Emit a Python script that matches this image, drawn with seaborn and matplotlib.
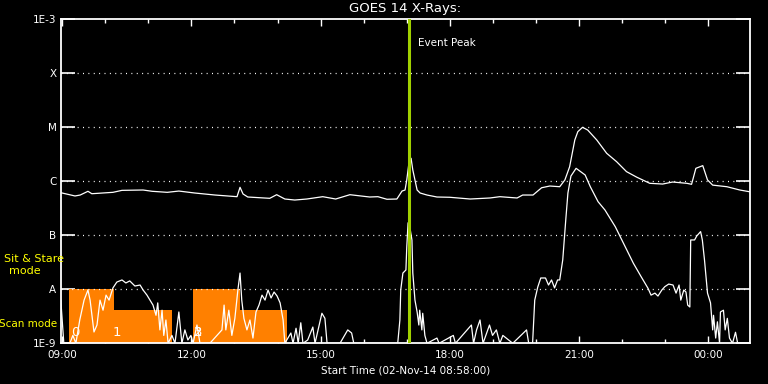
import numpy as np
import pandas as pd
import seaborn as sns
from matplotlib import pyplot as plt
from matplotlib.ticker import FixedLocator, NullLocator

# hours since 02-Nov-14 00:00, flux in W/m^2
long_t = [8.97, 9.30, 9.42, 9.60, 9.69, 10.18, 10.39, 10.88, 11.09, 11.44, 11.71, 12.08, 12.55,
          13.06, 13.13, 13.20, 13.31, 13.82, 13.98, 14.17, 14.40, 14.68, 15.05, 15.35, 15.68,
          16.14, 16.33, 16.54, 16.77, 16.89, 16.96, 17.00, 17.05, 17.10, 17.14, 17.24, 17.31,
          17.47, 17.70, 18.00, 18.47, 18.93, 19.16, 19.56, 19.69, 19.93, 20.13, 20.32, 20.55,
          20.67, 20.78, 20.90, 20.97, 21.08, 21.20, 21.41, 21.64, 21.87, 22.10, 22.34, 22.64,
          22.94, 23.17, 23.50, 23.61, 23.71, 23.87, 23.98, 24.10, 24.43, 24.73, 24.96]
long_f = [6.15e-7, 5.35e-7, 5.57e-7, 6.53e-7, 5.89e-7, 6.25e-7, 6.8e-7, 6.9e-7, 6.53e-7, 6.25e-7,
          6.6e-7, 6.07e-7, 5.57e-7, 5.19e-7, 7.74e-7, 5.82e-7, 5.12e-7, 4.84e-7, 5.65e-7, 4.7e-7,
          4.5e-7, 4.7e-7, 5.19e-7, 4.7e-7, 5.65e-7, 5.12e-7, 5.19e-7, 4.65e-7, 4.7e-7, 6.6e-7,
          6.9e-7, 1.06e-6, 2.18e-6, 2.67e-6, 1.62e-6, 6.9e-7, 6.07e-7, 5.57e-7, 5.12e-7, 5.06e-7,
          4.7e-7, 4.91e-7, 5.19e-7, 4.91e-7, 5.57e-7, 5.57e-7, 7.6e-7, 8.18e-7, 7.94e-7, 1.06e-6,
          1.86e-6, 5.82e-6, 8.3e-6, 1.0e-5, 8.9e-6, 5.82e-6, 3.3e-6, 2.31e-6, 1.51e-6, 1.19e-6,
          9.18e-7, 8.9e-7, 9.7e-7, 9.18e-7, 8.8e-7, 1.74e-6, 1.95e-6, 1.06e-6, 8.5e-7, 7.94e-7,
          6.9e-7, 6.4e-7]

short_t = [8.97, 9.02, 9.04, 9.18, 9.25, 9.32, 9.41, 9.51, 9.60, 9.65, 9.74, 9.81, 9.88, 9.95,
           10.02, 10.09, 10.18, 10.27, 10.39, 10.48, 10.57, 10.69, 10.81, 10.88, 10.97, 11.04,
           11.11, 11.18, 11.22, 11.27, 11.32, 11.36, 11.41, 11.46, 11.55, 11.62, 11.71, 11.78,
           11.85, 11.92, 11.99, 12.04, 12.13, 12.20, 12.43, 12.71, 12.76, 12.80, 12.87, 12.94,
           13.01, 13.08, 13.13, 13.17, 13.22, 13.29, 13.36, 13.43, 13.50, 13.57, 13.64, 13.71,
           13.78, 13.85, 13.92, 13.99, 14.06, 14.13, 14.17, 14.31, 14.36, 14.43, 14.48, 14.54,
           14.59, 14.70, 14.82, 14.87, 15.03, 15.10, 15.15, 15.45, 15.63, 15.72, 15.77, 16.79,
           16.84, 16.86, 16.91, 16.98, 17.00, 17.03, 17.05, 17.12, 17.14, 17.19, 17.24, 17.28,
           17.30, 17.35, 17.37, 17.42, 17.47, 17.70, 17.75, 18.08, 18.13, 18.50, 18.55, 18.62,
           18.70, 18.77, 18.92, 18.99, 19.08, 19.16, 19.23, 19.46, 19.78, 19.83, 19.92, 19.97,
           20.04, 20.11, 20.22, 20.29, 20.36, 20.43, 20.50, 20.55, 20.62, 20.69, 20.74, 20.81,
           20.93, 21.14, 21.26, 21.44, 21.60, 21.84, 22.07, 22.26, 22.44, 22.60, 22.67, 22.76,
           22.83, 22.92, 22.99, 23.08, 23.18, 23.25, 23.32, 23.36, 23.43, 23.48, 23.52, 23.57,
           23.59, 23.68, 23.73, 23.82, 23.86, 23.91, 23.98, 24.05, 24.10, 24.12, 24.17, 24.21,
           24.26, 24.28, 24.35, 24.39, 24.44, 24.49, 24.56, 24.63, 24.68, 24.96]
short_f = [6.3e-9, 1.77e-9, 1e-9, 1e-9, 1.4e-9, 1e-9, 2.7e-9, 6.3e-9, 9.7e-9, 6.3e-9, 1.62e-9,
           2.18e-9, 6.3e-9, 4.1e-9, 7.8e-9, 6.3e-9, 1.06e-8, 1.36e-8, 1.49e-8, 1.31e-8, 1.43e-8,
           1.15e-8, 1.2e-8, 9.7e-9, 7.8e-9, 6.3e-9, 5.1e-9, 3.3e-9, 5.6e-9, 1.77e-9, 4.1e-9,
           1.4e-9, 2.7e-9, 1e-9, 1.4e-9, 1e-9, 3.8e-9, 1e-9, 1.77e-9, 1.15e-9, 1.4e-9, 1e-9,
           2.18e-9, 1e-9, 1e-9, 1.77e-9, 5.1e-9, 1.77e-9, 4.1e-9, 1.4e-9, 2.9e-9, 9.7e-9, 2.0e-8,
           6.3e-9, 2.9e-9, 1.77e-9, 2.7e-9, 1.25e-9, 3.8e-9, 5.1e-9, 7.8e-9, 6.3e-9, 9.7e-9,
           6.9e-9, 8.9e-9, 7.5e-9, 5.6e-9, 2.7e-9, 1e-9, 1.55e-9, 1e-9, 1.9e-9, 1e-9, 2.4e-9,
           1e-9, 1.15e-9, 2.0e-9, 1e-9, 3.6e-9, 2.9e-9, 1e-9, 1e-9, 1.77e-9, 1.55e-9, 1e-9, 1e-9,
           2.7e-9, 9.7e-9, 2.0e-8, 2.28e-8, 6.1e-8, 1.69e-7, 1.79e-7, 8.2e-8, 2.0e-8, 6.3e-9,
           3.8e-9, 2.18e-9, 4.1e-9, 1.77e-9, 3.6e-9, 1.4e-9, 1e-9, 1.25e-9, 1e-9, 1.4e-9, 1e-9,
           2.18e-9, 1e-9, 1.77e-9, 2.7e-9, 1e-9, 2.18e-9, 1.4e-9, 1.77e-9, 1e-9, 1.4e-9, 1e-9,
           1.77e-9, 1e-9, 1e-9, 6.3e-9, 1.1e-8, 1.62e-8, 1.62e-8, 1.2e-8, 1.49e-8, 1.06e-8,
           1.49e-8, 1.49e-8, 3.5e-8, 1.92e-7, 6.07e-7, 1.25e-6, 1.74e-6, 1.31e-6, 7.94e-7, 4.19e-7,
           2.94e-7, 1.44e-7, 6.15e-8, 3.03e-8, 1.71e-8, 1.04e-8, 7.8e-9, 8.5e-9, 7.5e-9, 9.7e-9,
           1.12e-8, 1.25e-8, 1.2e-8, 8.5e-9, 1.2e-8, 6.3e-9, 9.7e-9, 8.9e-9, 5.1e-9, 4.7e-9,
           8.2e-8, 8.2e-8, 9.7e-8, 1.17e-7, 8.2e-8, 3.5e-8, 8.5e-9, 5.6e-9, 1.77e-9, 3.3e-9,
           1.25e-9, 2.5e-9, 1e-9, 3.8e-9, 4.1e-9, 1.77e-9, 2.9e-9, 1.25e-9, 1e-9, 1.6e-9, 1e-9, 1e-9]

# scan / sit & stare mode intervals: start, end, top level
mode_start = [9.16, 10.20, 12.04, 13.14]
mode_end = [10.20, 11.54, 13.14, 14.21]
mode_top = [1e-8, 4.1e-9, 1e-8, 4.1e-9]
mode_num = ['0', '1', '2', '3']
mode_num_t = [9.30, 10.28, 12.17, 12.17]

peak_t = 17.05
xticks = [9, 12, 15, 18, 21, 24]
xlabels = ['09:00', '12:00', '15:00', '18:00', '21:00', '00:00']
yticks = [1e-9, 1e-8, 1e-7, 1e-6, 1e-5, 1e-4, 1e-3]
ylabels = ['1E-9', 'A', 'B', 'C', 'M', 'X', '1E-3']

sns.set_theme(style='dark')
plt.rcParams.update({'axes.facecolor': 'black', 'figure.facecolor': 'black',
                     'savefig.facecolor': 'black', 'text.color': 'white',
                     'axes.edgecolor': 'white', 'xtick.color': 'white', 'ytick.color': 'white',
                     'axes.grid': False})
plt.rcParams['font.family'] = ['DejaVu Sans']

fig = plt.figure(figsize=(7.68, 3.84), dpi=100)
ax = fig.add_axes([0.079, 0.106, 0.8976, 0.8437])

# orange mode bars
for s, e, top in zip(mode_start, mode_end, mode_top):
    ax.bar(s, top - 1e-9, width=e - s, bottom=1e-9, align='edge', color='#ff8000',
           linewidth=0, zorder=1)
for num, t in zip(mode_num, mode_num_t):
    ax.text(t, 1.6e-9, num, color='white', fontsize=9.5, ha='center', va='center', zorder=2)

# dotted level lines
for lv in yticks[1:-1]:
    ax.axhline(lv, color='white', lw=0.9, ls=(0, (0.8, 3.5)), zorder=2)

df_long = pd.DataFrame({'t': long_t, 'flux': long_f})
df_short = pd.DataFrame({'t': short_t, 'flux': short_f})
sns.lineplot(data=df_long, x='t', y='flux', color='white', lw=0.9, estimator=None, sort=False,
             ax=ax, zorder=3)
sns.lineplot(data=df_short, x='t', y='flux', color='white', lw=0.9, estimator=None, sort=False,
             ax=ax, zorder=3)

ax.axvline(peak_t, color='#a0d000', lw=2.2, zorder=4)
ax.text(peak_t + 0.2, 3.6e-4, 'Event Peak', color='white', fontsize=7.5, va='center', ha='left')

ax.set_yscale('log')
ax.set_ylim(1e-9, 1e-3)
ax.set_xlim(8.967, 24.967)
ax.yaxis.set_major_locator(FixedLocator(yticks))
ax.yaxis.set_minor_locator(NullLocator())
ax.set_yticklabels(ylabels)
ax.xaxis.set_major_locator(FixedLocator(xticks))
ax.xaxis.set_minor_locator(FixedLocator(range(9, 25)))
ax.set_xticklabels(xlabels)
ax.tick_params(axis='y', which='major', direction='in', length=10, width=1.2, left=True,
               right=True, labelsize=7.5, pad=3)
ax.tick_params(axis='x', which='major', direction='in', length=5, width=1, top=True,
               bottom=True, labelsize=7.5, pad=5)
ax.tick_params(axis='x', which='minor', direction='in', length=3, width=1, top=True, bottom=True)
for sp in ax.spines.values():
    sp.set_color('white')
    sp.set_linewidth(1.3)
ax.set_xlabel('Start Time (02-Nov-14 08:58:00)', color='white', fontsize=7.5, labelpad=4)
ax.set_ylabel('')

fig.text(405 / 768, 0.979, 'GOES 14 X-Rays:', color='white', fontsize=9.5, ha='center',
         va='center')
fig.text(34 / 768, 1 - 259 / 384, 'Sit & Stare', color='#ffff00', fontsize=8, ha='center',
         va='center')
fig.text(24.5 / 768, 1 - 271.5 / 384, 'mode', color='#ffff00', fontsize=8, ha='center',
         va='center')
fig.text(28 / 768, 1 - 324 / 384, 'Scan mode', color='#ffff00', fontsize=7.5, ha='center',
         va='center')

fig.savefig('out.png', dpi=100)
